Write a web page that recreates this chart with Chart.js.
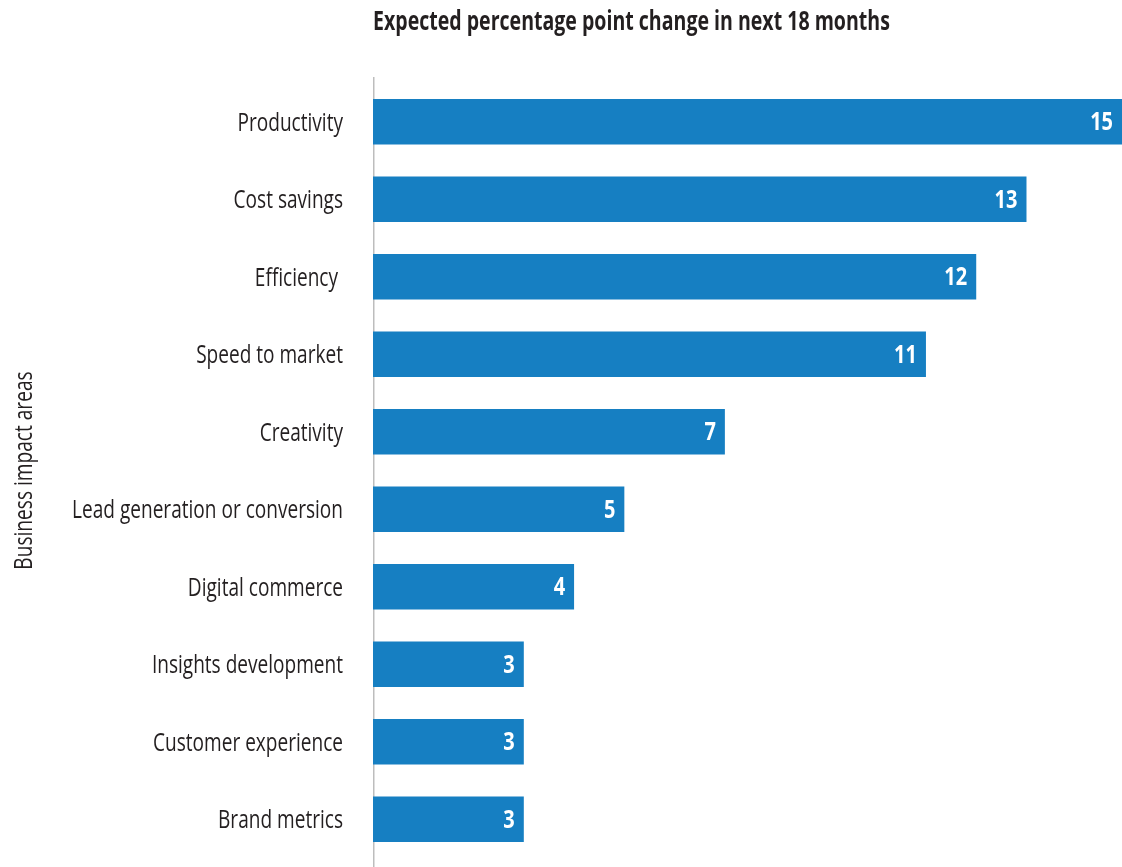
<!DOCTYPE html>
<html lang="en">
<head>
    <meta charset="UTF-8">
    <title>Business impact areas</title>
    <style>
        body {
            margin: 0;
            background-color: white;
        }
        #impactChart {
            display: block;
        }
    </style>
    <script src="https://cdn.jsdelivr.net/npm/chart.js"></script>
</head>
<body>
    <canvas id="impactChart" width="1122" height="867"></canvas>

    <script>
        const areas = [
            'Productivity',
            'Cost savings',
            'Efficiency ',
            'Speed to market',
            'Creativity',
            'Lead generation or conversion',
            'Digital commerce',
            'Insights development',
            'Customer experience',
            'Brand metrics'
        ];
        const pointChange = [15, 13, 12, 11, 7, 5, 4, 3, 3, 3];

        const chartTitle = 'Expected percentage point change in next 18 months';
        const axisTitle = 'Business impact areas';

        const FONT = "'Open Sans', 'Noto Sans', sans-serif";
        const TEXT = '#231f20';
        const BAR = '#167fc2';

        // draw text squeezed horizontally around its anchor point (condensed look)
        function narrowText(ctx, text, x, y, font, align, squeeze, rotate) {
            ctx.save();
            ctx.translate(x, y);
            if (rotate) ctx.rotate(-Math.PI / 2);
            ctx.scale(squeeze, 1);
            ctx.font = font;
            ctx.textAlign = align;
            ctx.textBaseline = 'alphabetic';
            ctx.fillText(text, 0, 0);
            ctx.restore();
        }

        // thin grey axis line behind the bars
        const axisLine = {
            id: 'axisLine',
            beforeDatasetsDraw(chart) {
                const { ctx, chartArea } = chart;
                const x = chart.scales.x.getPixelForValue(0) + 0.75;
                ctx.save();
                ctx.strokeStyle = '#bdbdbd';
                ctx.lineWidth = 1.5;
                ctx.beginPath();
                ctx.moveTo(x, chartArea.top - 6);
                ctx.lineTo(x, chart.height);
                ctx.stroke();
                ctx.restore();
            }
        };

        // titles, category names and the values at the bar ends
        const labels = {
            id: 'labels',
            afterDatasetsDraw(chart) {
                const { ctx, chartArea } = chart;
                const y = chart.scales.y;
                const left = chartArea.left;

                ctx.save();
                ctx.fillStyle = TEXT;
                narrowText(ctx, chartTitle, left, 29.5, 'bold 26px ' + FONT, 'left', 0.752);
                narrowText(ctx, axisTitle, 32, (chartArea.top + chartArea.bottom) / 2,
                    '26px ' + FONT, 'center', 0.735, true);

                areas.forEach((name, i) => {
                    narrowText(ctx, name, left - 30, y.getPixelForValue(i) + 9,
                        '26px ' + FONT, 'right', 0.733);
                });

                ctx.fillStyle = '#ffffff';
                chart.getDatasetMeta(0).data.forEach((bar, i) => {
                    const end = Math.min(bar.x, chartArea.right);
                    narrowText(ctx, String(pointChange[i]), end - 9, bar.y + 8.5,
                        'bold 25px ' + FONT, 'right', 0.8);
                });
                ctx.restore();
            }
        };

        const ctx = document.getElementById('impactChart').getContext('2d');
        new Chart(ctx, {
            type: 'bar',
            data: {
                labels: areas,
                datasets: [{
                    data: pointChange,
                    backgroundColor: BAR,
                    borderWidth: 0,
                    barPercentage: 0.59,
                    categoryPercentage: 1
                }]
            },
            options: {
                indexAxis: 'y',
                responsive: false,
                animation: false,
                layout: {
                    padding: { top: 83, right: 0, bottom: 9, left: 0 }
                },
                scales: {
                    x: {
                        display: false,
                        min: 0,
                        max: 14.9
                    },
                    y: {
                        afterFit(scale) {
                            scale.width = 373;
                        },
                        grid: { display: false, drawTicks: false },
                        border: { display: false },
                        ticks: { display: false }
                    }
                },
                plugins: {
                    legend: { display: false },
                    tooltip: { enabled: false },
                    title: { display: false }
                }
            },
            plugins: [axisLine, labels]
        });
    </script>
</body>
</html>
